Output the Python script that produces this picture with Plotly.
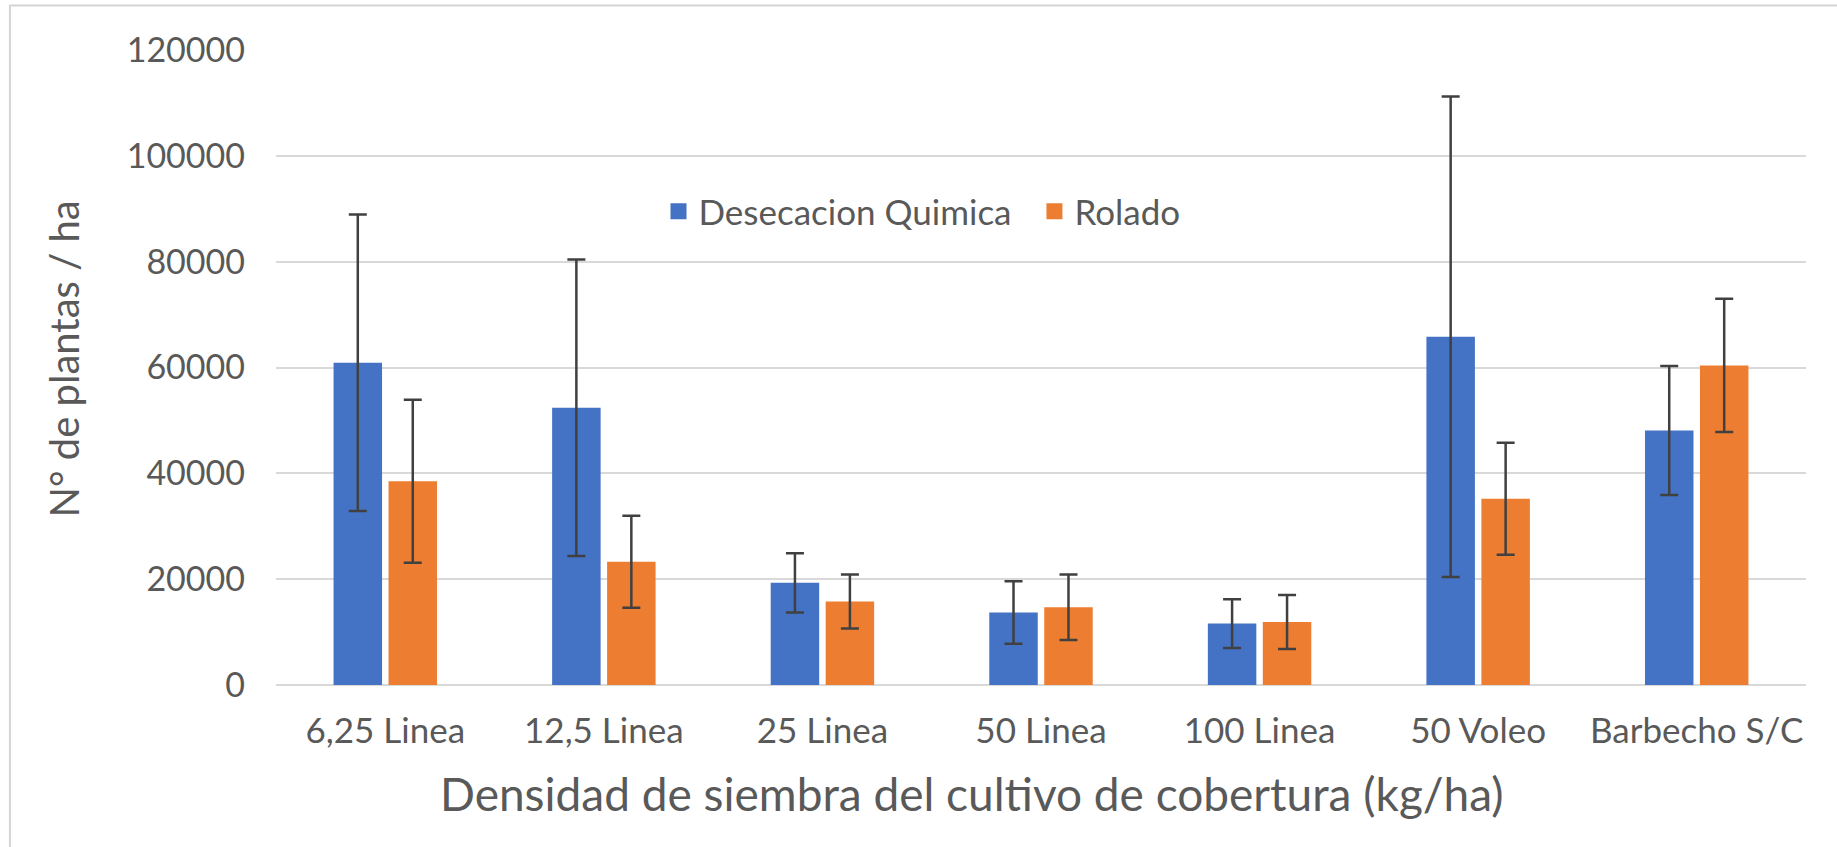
import plotly.graph_objects as go

categories = ["6,25 Linea", "12,5 Linea", "25 Linea", "50 Linea", "100 Linea", "50 Voleo", "Barbecho S/C"]
desecacion = [60900, 52400, 19300, 13700, 11600, 65800, 48100]
desecacion_err = [28000, 28000, 5600, 5900, 4600, 45400, 12200]
rolado = [38500, 23300, 15800, 14700, 11900, 35200, 60400]
rolado_err = [15400, 8700, 5100, 6200, 5100, 10600, 12600]
y_ticks = [0, 20000, 40000, 60000, 80000, 100000, 120000]

BLUE = "#4472C4"
ORANGE = "#ED7D31"
TXT = "#595959"
FONT = "Lato"

fig = go.Figure()
for name, label, vals, errs, col in [
        ("Desecacion Quimica", "Desecacion Quimica\u00a0\u00a0", desecacion, desecacion_err, BLUE),
        ("Rolado", "Rolado", rolado, rolado_err, ORANGE)]:
    fig.add_trace(go.Bar(
        x=categories, y=vals, name=name, marker_color=col, marker_line_width=0,
        showlegend=False,
        error_y=dict(type="data", array=errs, visible=True, color="#404040",
                     thickness=2.5, width=9),
    ))
    fig.add_trace(go.Scatter(
        x=[None], y=[None], mode="markers", name=label,
        marker=dict(symbol="square", size=20, color=col),
    ))

# outer chart frame (Excel chart area border)
fig.add_shape(type="rect", xref="paper", yref="paper",
              x0=-0.1739, x1=1.03, y0=-0.3, y1=1.0701,
              line=dict(color="#D4D4D4", width=2), layer="below")

# axis titles
fig.add_annotation(text="Densidad de siembra del cultivo de cobertura (kg/ha)",
                   xref="paper", yref="paper", x=0.455, y=-0.171,
                   xanchor="center", yanchor="middle", showarrow=False,
                   font=dict(family=FONT, size=46, color=TXT))
fig.add_annotation(text="N° de plantas / ha", textangle=-90,
                   xref="paper", yref="paper", x=-0.1386, y=0.514,
                   xanchor="center", yanchor="middle", showarrow=False,
                   font=dict(family=FONT, size=40, color=TXT))

fig.update_layout(
    width=1837, height=847,
    margin=dict(l=276, r=31, t=50, b=162, pad=0),
    paper_bgcolor="white", plot_bgcolor="white",
    font=dict(family=FONT, color=TXT, size=35),
    barmode="group", bargap=0.497, bargroupgap=0.118,
    legend=dict(orientation="h", x=0.25, xanchor="left", y=0.7457, yanchor="middle",
                font=dict(size=35, color=TXT), bgcolor="rgba(0,0,0,0)",
                itemsizing="trace", tracegroupgap=0),
    xaxis=dict(
        range=[-0.5, 6.5], showgrid=False, showline=False, zeroline=False,
        ticks="", tickfont=dict(size=35, color=TXT), ticklabelstandoff=22,
    ),
    yaxis=dict(
        range=[0, 120000], tickvals=y_ticks, ticktext=[str(v) for v in y_ticks],
        showgrid=True, gridcolor="#D9D9D9", gridwidth=2,
        zeroline=True, zerolinecolor="#D9D9D9", zerolinewidth=2,
        showline=False, ticks="", tickfont=dict(size=34, color=TXT),
        ticklabelstandoff=30,
    ),
)

fig.write_html("out.html", config={"displayModeBar": False},
               post_script="document.body.style.margin='0';")
